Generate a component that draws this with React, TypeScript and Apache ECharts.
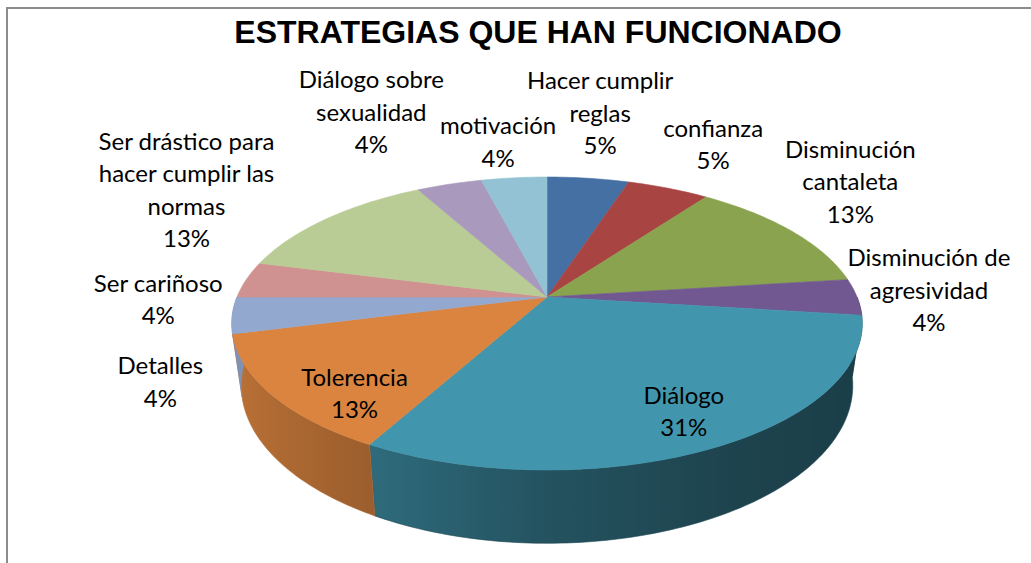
import React, { useEffect, useRef } from "react";
import * as echarts from "echarts";

const TITLE = "ESTRATEGIAS QUE HAN FUNCIONADO";
const CATEGORIES = [
  "Hacer cumplir reglas",
  "confianza",
  "Disminución cantaleta",
  "Disminución de agresividad",
  "Diálogo",
  "Tolerencia",
  "Detalles",
  "Ser cariñoso",
  "Ser drástico para hacer cumplir las normas",
  "Diálogo sobre sexualidad",
  "motivación",
];
const VALUES = [5, 5, 13, 4, 31, 13, 4, 4, 13, 4, 4];
const COLORS = [
  "#4470A4", "#A84543", "#89A34E", "#715890", "#4196AE", "#DA843F",
  "#93A8CE", "#D09291", "#B9CC95", "#A899BD", "#92C2D4",
];

// label layout: radius factor of anchor and offset of label centre from it (px)
const LABEL_RHO = [1, 1, 1, 1, 1, 1, 1, 1, 1, 1, 1];
const LABEL_OFFSET: [number, number][] = [
  [12, -66], [45, -45], [59, -50], [72, -8], [-31, -37], [83, -2],
  [-72, 66], [-88, 19], [-140, -30], [-78, -73], [-16, -37],
];

// 3D geometry (perspective projection of a tilted disk)
const CX = 547, CY = 297, RA = 310, RB = 141.7, K = 0.181, DEPTH = 60, BOTTOM_SCALE = 0.97;
const SHADE_U = [-1, -0.5, 0, 0.5, 1];
const SHADE_F = [0.87, 0.72, 0.55, 0.45, 0.41];

const TOTAL = VALUES.reduce((s, v) => s + v, 0);
const STARTS: number[] = [];
const ENDS: number[] = [];
{
  let acc = 0;
  VALUES.forEach((v) => {
    STARTS.push((acc / TOTAL) * 360);
    acc += v;
    ENDS.push((acc / TOTAL) * 360);
  });
}

function proj(thDeg: number, rho: number): [number, number] {
  const th = (thDeg * Math.PI) / 180;
  const u = rho * Math.sin(th);
  const v = -rho * Math.cos(th);
  const d = 1 - K * v;
  return [CX + (RA * u) / d, CY + (RB * v) / d];
}
function projBottom(thDeg: number): [number, number] {
  const th = (thDeg * Math.PI) / 180;
  const v = -Math.cos(th);
  const d = 1 - K * v;
  const p = proj(thDeg, 1);
  return [CX + (p[0] - CX) * BOTTOM_SCALE, p[1] + DEPTH / d];
}
function shadeFactor(thDeg: number) {
  const u = Math.sin((thDeg * Math.PI) / 180);
  for (let i = 0; i < SHADE_U.length - 1; i++) {
    if (u <= SHADE_U[i + 1]) {
      const t = (u - SHADE_U[i]) / (SHADE_U[i + 1] - SHADE_U[i]);
      return SHADE_F[i] + t * (SHADE_F[i + 1] - SHADE_F[i]);
    }
  }
  return SHADE_F[SHADE_F.length - 1];
}
function shade(hex: string, f: number) {
  const n = parseInt(hex.slice(1), 16);
  const r = Math.round(((n >> 16) & 255) * f);
  const g = Math.round(((n >> 8) & 255) * f);
  const b = Math.round((n & 255) * f);
  return `rgb(${r},${g},${b})`;
}
function wrap(s: string, max = 17) {
  const words = s.split(" ");
  const lines: string[] = [];
  let cur = "";
  words.forEach((w) => {
    if (!cur) cur = w;
    else if ((cur + " " + w).length <= max) cur += " " + w;
    else {
      lines.push(cur);
      cur = w;
    }
  });
  if (cur) lines.push(cur);
  return lines.join("\n");
}

function renderWall(params: any, api: any) {
  const i = params.dataIndex;
  const lo = Math.max(STARTS[i], 90);
  const hi = Math.min(ENDS[i], 270);
  if (hi <= lo) return { type: "group", children: [] };
  const n = Math.max(2, Math.ceil(hi - lo));
  const tops: [number, number][] = [];
  const bots: [number, number][] = [];
  const ths: number[] = [];
  for (let k = 0; k <= n; k++) {
    const th = lo + ((hi - lo) * k) / n;
    ths.push(th);
    tops.push(proj(th, 1));
    bots.push(projBottom(th));
  }
  const pts = tops.concat(bots.slice().reverse());
  let xmin = Infinity, xmax = -Infinity;
  pts.forEach((p) => {
    xmin = Math.min(xmin, p[0]);
    xmax = Math.max(xmax, p[0]);
  });
  const stops = ths
    .map((th, k) => ({
      offset: Math.min(1, Math.max(0, (tops[k][0] - xmin) / (xmax - xmin))),
      color: shade(COLORS[i], shadeFactor(th)),
    }))
    .sort((a, b) => a.offset - b.offset);
  return {
    type: "polygon",
    shape: { points: pts },
    style: {
      fill: new echarts.graphic.LinearGradient(0, 0, 1, 0, stops),
      stroke: stops[Math.floor(stops.length / 2)].color,
      lineWidth: 0.6,
    },
  };
}

function renderTop(params: any, api: any) {
  const i = params.dataIndex;
  const a = STARTS[i], b = ENDS[i];
  const n = Math.max(2, Math.ceil(b - a));
  const pts: [number, number][] = [[CX, CY]];
  for (let k = 0; k <= n; k++) pts.push(proj(a + ((b - a) * k) / n, 1));
  return {
    type: "polygon",
    shape: { points: pts },
    style: { fill: COLORS[i], stroke: COLORS[i], lineWidth: 0.6, lineJoin: "round" },
  };
}

function renderLabel(params: any, api: any) {
  const i = params.dataIndex;
  const mid = (STARTS[i] + ENDS[i]) / 2;
  const p = proj(mid, LABEL_RHO[i]);
  return {
    type: "text",
    x: p[0] + LABEL_OFFSET[i][0],
    y: p[1] + LABEL_OFFSET[i][1],
    style: {
      text: `${wrap(CATEGORIES[i])}\n${api.value(0)}%`,
      fontFamily: "Lato",
      fontSize: 24,
      lineHeight: 32.5,
      fill: "#000",
      align: "center",
      verticalAlign: "middle",
    },
  };
}

export default function App() {
  const ref = useRef<HTMLDivElement>(null);
  useEffect(() => {
    if (!ref.current) return;
    const chart = echarts.init(ref.current, null, { renderer: "svg" });
    const data = VALUES.map((v, i) => ({ value: v, name: CATEGORIES[i] }));
    chart.setOption({
      animation: false,
      backgroundColor: "#fff",
      graphic: [
        {
          type: "rect",
          shape: { x: 7, y: 8, width: 1100, height: 700 },
          style: { fill: "none", stroke: "#8c8c8c", lineWidth: 2 },
          z: 0,
        },
        {
          type: "text",
          x: 538,
          y: 32,
          style: {
            text: TITLE,
            fontFamily: "Liberation Sans",
            fontWeight: "bold",
            fontSize: 32,
            fill: "#000",
            align: "center",
            verticalAlign: "middle",
          },
        },
      ],
      series: [
        { type: "custom", coordinateSystem: "none", renderItem: renderWall, data, z: 1, silent: true },
        { type: "custom", coordinateSystem: "none", renderItem: renderTop, data, z: 2, silent: true },
        { type: "custom", coordinateSystem: "none", renderItem: renderLabel, data, z: 3, silent: true },
      ],
    });
    return () => chart.dispose();
  }, []);
  return (
    <div
      ref={ref}
      style={{ position: "absolute", left: 0, top: 0, width: 1031, height: 563 }}
    />
  );
}
